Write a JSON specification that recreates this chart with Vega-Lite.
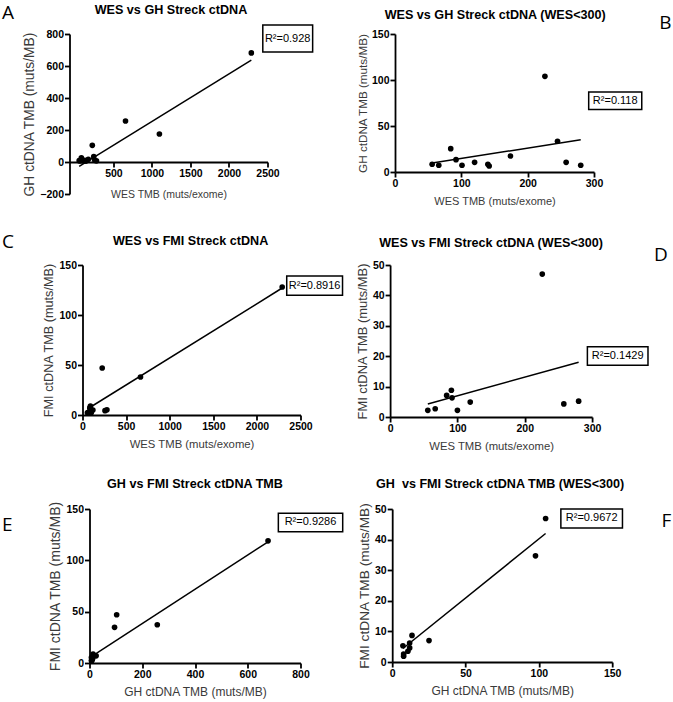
{
  "$schema": "https://vega.github.io/schema/vega-lite/v6.json",
  "background": "white",
  "padding": {"left": 2, "right": 1, "top": 3, "bottom": 2},
  "datasets": {
    "A_pts": [{"x":56,"y":8.4},{"x":66,"y":7.3},{"x":84,"y":25.4},{"x":92,"y":13.4},{"x":101,"y":7.3},{"x":120,"y":10.5},{"x":140,"y":8.4},{"x":142,"y":6.5},{"x":174,"y":17.4},{"x":226,"y":104},{"x":245,"y":33.4},{"x":258,"y":10.5},{"x":280,"y":7.3},{"x":657,"y":256},{"x":1097,"y":175},{"x":2290,"y":682}],
    "A_fit": [{"x":56,"y":-27},{"x":2290,"y":637}],
    "A_box": [{"x":2439,"x2":3086,"y":856,"y2":687}],
    "A_lab": [{"x":2762,"y":771,"t":"R²=0.928"}],
    "A_let": [{"x":0,"y":41.5,"t":"A"}],
    "A_ttl": [{"x":1247,"y":950,"t":"WES vs GH Streck ctDNA"}],
    "B_pts": [{"x":56,"y":8.4},{"x":66,"y":7.3},{"x":84,"y":25.4},{"x":92,"y":13.4},{"x":101,"y":7.3},{"x":120,"y":10.5},{"x":140,"y":8.4},{"x":142,"y":6.5},{"x":174,"y":17.4},{"x":226,"y":104},{"x":245,"y":33.4},{"x":258,"y":10.5},{"x":280,"y":7.3}],
    "B_fit": [{"x":56,"y":9.8},{"x":280,"y":35}],
    "B_box": [{"x":292,"x2":372,"y":87,"y2":68}],
    "B_lab": [{"x":332,"y":77.5,"t":"R²=0.118"}],
    "B_let": [{"x":407.5,"y":161.7,"t":"B"}],
    "B_ttl": [{"x":151,"y":171,"t":"WES vs GH Streck ctDNA (WES<300)"}],
    "C_pts": [{"x":56,"y":2.2},{"x":67,"y":2.7},{"x":84,"y":7.1},{"x":91,"y":8.8},{"x":92,"y":6.3},{"x":100,"y":2.2},{"x":119,"y":4.9},{"x":226,"y":47},{"x":258,"y":4.3},{"x":280,"y":5.2},{"x":665,"y":38},{"x":2290,"y":128}],
    "C_fit": [{"x":56,"y":6},{"x":2290,"y":127}],
    "C_box": [{"x":2342,"x2":2982,"y":139,"y2":119.7}],
    "C_lab": [{"x":2662,"y":129.3,"t":"R²=0.8916"}],
    "C_let": [{"x":0,"y":43.5,"t":"C"}],
    "C_ttl": [{"x":1240,"y":174,"t":"WES vs FMI Streck ctDNA"}],
    "D_pts": [{"x":56,"y":2.2},{"x":67,"y":2.7},{"x":84,"y":7.1},{"x":91,"y":8.8},{"x":92,"y":6.3},{"x":100,"y":2.2},{"x":119,"y":4.9},{"x":226,"y":47},{"x":258,"y":4.3},{"x":280,"y":5.2}],
    "D_fit": [{"x":56,"y":4.3},{"x":280,"y":18}],
    "D_box": [{"x":293,"x2":383,"y":23.1,"y2":17}],
    "D_lab": [{"x":338,"y":20,"t":"R²=0.1429"}],
    "D_let": [{"x":402,"y":53.3,"t":"D"}],
    "D_ttl": [{"x":150,"y":57.3,"t":"WES vs FMI Streck ctDNA (WES<300)"}],
    "E_pts": [{"x":7.3,"y":5.3},{"x":7.8,"y":2.6},{"x":7.8,"y":1.9},{"x":13.5,"y":8.7},{"x":11.9,"y":6.2},{"x":11.9,"y":4.6},{"x":10.7,"y":3.5},{"x":25.1,"y":7},{"x":95,"y":34.7},{"x":103,"y":47},{"x":257,"y":37.3},{"x":677,"y":119}],
    "E_fit": [{"x":7,"y":6.3},{"x":677,"y":118}],
    "E_box": [{"x":716,"x2":960,"y":145.8,"y2":127.9}],
    "E_lab": [{"x":838,"y":136.9,"t":"R²=0.9286"}],
    "E_let": [{"x":0,"y":4,"t":"E"}],
    "E_ttl": [{"x":400,"y":174.8,"t":"GH vs FMI Streck ctDNA TMB"}],
    "F_pts": [{"x":7.3,"y":5.3},{"x":7.8,"y":2.6},{"x":7.8,"y":1.9},{"x":13.5,"y":8.7},{"x":11.9,"y":6.2},{"x":11.9,"y":4.6},{"x":10.7,"y":3.5},{"x":25.1,"y":7},{"x":97.7,"y":34.7},{"x":104.6,"y":46.9}],
    "F_fit": [{"x":7.3,"y":4.4},{"x":104.6,"y":42}],
    "F_box": [{"x":115,"x2":157,"y":50,"y2":43.8}],
    "F_lab": [{"x":136,"y":46.9,"t":"R²=0.9672"}],
    "F_let": [{"x":187,"y":46,"t":"F"}],
    "F_ttl": [{"x":73.6,"y":58.3,"t":"GH\u00a0 vs FMI Streck ctDNA TMB (WES<300)"}]
  },
  "vconcat": [
    {
      "hconcat": [
        {
          "hconcat": [
            {
              "width": 14, "height": 20,
              "data": {"name": "A_let"},
              "mark": {"type": "text", "fontSize": 19, "font": "Open Sans", "color": "black", "align": "left", "baseline": "middle"},
              "encoding": {
                "x": {"field": "x", "type": "quantitative", "scale": {"domain": [0, 14], "nice": false, "zero": false}, "axis": null},
                "y": {"field": "y", "type": "quantitative", "scale": {"domain": [0, 20], "nice": false, "zero": false}, "axis": null},
                "text": {"field": "t"}}
            },
            {
              "width": 198, "height": 160,
              "encoding": {
                "x": {"field": "x", "type": "quantitative", "scale": {"domain": [-70, 2500], "nice": false, "zero": false}, "axis": {"title": "WES TMB (muts/exome)", "titleFontSize": 10.5, "values": [500, 1000, 1500, 2000, 2500], "format": "d", "labelOverlap": false, "offset": -32, "titlePadding": 11}},
                "y": {"field": "y", "type": "quantitative", "scale": {"domain": [-200, 800], "nice": false, "zero": false}, "axis": {"title": "GH ctDNA TMB (muts/MB)", "titleFontSize": 13.8, "values": [-200, 0, 200, 400, 600, 800], "format": "d", "labelOverlap": false}}
              },
              "layer": [
                {"data": {"name": "A_pts"}, "mark": {"type": "circle", "size": 32, "color": "black", "opacity": 1}},
                {"data": {"name": "A_fit"}, "mark": {"type": "line", "color": "black", "strokeWidth": 1.5}},
                {"data": {"name": "A_box"}, "mark": {"type": "rect", "fill": "white", "stroke": "black", "strokeWidth": 1.5},
                 "encoding": {"x2": {"field": "x2"}, "y2": {"field": "y2"}}},
                {"data": {"name": "A_lab"}, "mark": {"type": "text", "fontSize": 11, "font": "Liberation Sans", "color": "black", "align": "center", "baseline": "middle"},
                 "encoding": {"text": {"field": "t"}}},
                {"data": {"name": "A_ttl"}, "mark": {"type": "text", "fontSize": 12.6, "font": "Liberation Sans", "fontWeight": "bold", "color": "black", "align": "center", "baseline": "middle"},
                 "encoding": {"text": {"field": "t"}}}
              ]
            }
          ],
          "spacing": 6.5
        },
        {
          "width": 199, "height": 138,
          "encoding": {
            "x": {"field": "x", "type": "quantitative", "scale": {"domain": [0, 300], "nice": false, "zero": false}, "axis": {"title": "WES TMB (muts/exome)", "titleFontSize": 11, "values": [0, 100, 200, 300], "format": "d", "labelOverlap": false}},
            "y": {"field": "y", "type": "quantitative", "scale": {"domain": [0, 150], "nice": false, "zero": false}, "axis": {"title": "GH ctDNA TMB (muts/MB)", "titleFontSize": 11.7, "values": [0, 50, 100, 150], "format": "d", "labelOverlap": false}}
          },
          "layer": [
            {"data": {"name": "B_pts"}, "mark": {"type": "circle", "size": 32, "color": "black", "opacity": 1}},
            {"data": {"name": "B_fit"}, "mark": {"type": "line", "color": "black", "strokeWidth": 1.5}},
            {"data": {"name": "B_box"}, "mark": {"type": "rect", "fill": "white", "stroke": "black", "strokeWidth": 1.5},
             "encoding": {"x2": {"field": "x2"}, "y2": {"field": "y2"}}},
            {"data": {"name": "B_lab"}, "mark": {"type": "text", "fontSize": 11, "font": "Liberation Sans", "color": "black", "align": "center", "baseline": "middle"},
             "encoding": {"text": {"field": "t"}}},
            {"data": {"name": "B_let"}, "mark": {"type": "text", "fontSize": 19, "font": "Open Sans", "color": "black", "align": "center", "baseline": "middle"},
             "encoding": {"text": {"field": "t"}}},
            {"data": {"name": "B_ttl"}, "mark": {"type": "text", "fontSize": 12.6, "font": "Liberation Sans", "fontWeight": "bold", "color": "black", "align": "center", "baseline": "middle"},
             "encoding": {"text": {"field": "t"}}}
          ]
        }
      ],
      "spacing": 43
    },
    {
      "hconcat": [
        {
          "hconcat": [
            {
              "width": 14, "height": 20,
              "data": {"name": "C_let"},
              "mark": {"type": "text", "fontSize": 19, "font": "Open Sans", "color": "black", "align": "left", "baseline": "middle"},
              "encoding": {
                "x": {"field": "x", "type": "quantitative", "scale": {"domain": [0, 14], "nice": false, "zero": false}, "axis": null},
                "y": {"field": "y", "type": "quantitative", "scale": {"domain": [0, 20], "nice": false, "zero": false}, "axis": null},
                "text": {"field": "t"}}
            },
            {
              "width": 218, "height": 150,
              "encoding": {
                "x": {"field": "x", "type": "quantitative", "scale": {"domain": [0, 2500], "nice": false, "zero": false}, "axis": {"title": "WES TMB (muts/exome)", "titleFontSize": 11.3, "values": [0, 500, 1000, 1500, 2000, 2500], "format": "d", "labelOverlap": false}},
                "y": {"field": "y", "type": "quantitative", "scale": {"domain": [0, 150], "nice": false, "zero": false}, "axis": {"title": "FMI ctDNA TMB (muts/MB)", "titleFontSize": 12.7, "values": [0, 50, 100, 150], "format": "d", "labelOverlap": false}}
              },
              "layer": [
                {"data": {"name": "C_pts"}, "mark": {"type": "circle", "size": 32, "color": "black", "opacity": 1}},
                {"data": {"name": "C_fit"}, "mark": {"type": "line", "color": "black", "strokeWidth": 1.5}},
                {"data": {"name": "C_box"}, "mark": {"type": "rect", "fill": "white", "stroke": "black", "strokeWidth": 1.5},
                 "encoding": {"x2": {"field": "x2"}, "y2": {"field": "y2"}}},
                {"data": {"name": "C_lab"}, "mark": {"type": "text", "fontSize": 11, "font": "Liberation Sans", "color": "black", "align": "center", "baseline": "middle"},
                 "encoding": {"text": {"field": "t"}}},
                {"data": {"name": "C_ttl"}, "mark": {"type": "text", "fontSize": 12.6, "font": "Liberation Sans", "fontWeight": "bold", "color": "black", "align": "center", "baseline": "middle"},
                 "encoding": {"text": {"field": "t"}}}
              ]
            }
          ],
          "spacing": 26.5
        },
        {
          "width": 202, "height": 152,
          "encoding": {
            "x": {"field": "x", "type": "quantitative", "scale": {"domain": [0, 300], "nice": false, "zero": false}, "axis": {"title": "WES TMB (muts/exome)", "titleFontSize": 11.3, "values": [0, 100, 200, 300], "format": "d", "labelOverlap": false}},
            "y": {"field": "y", "type": "quantitative", "scale": {"domain": [0, 50], "nice": false, "zero": false}, "axis": {"title": "FMI ctDNA TMB (muts/MB)", "titleFontSize": 12.9, "values": [0, 10, 20, 30, 40, 50], "format": "d", "labelOverlap": false}}
          },
          "layer": [
            {"data": {"name": "D_pts"}, "mark": {"type": "circle", "size": 32, "color": "black", "opacity": 1}},
            {"data": {"name": "D_fit"}, "mark": {"type": "line", "color": "black", "strokeWidth": 1.5}},
            {"data": {"name": "D_box"}, "mark": {"type": "rect", "fill": "white", "stroke": "black", "strokeWidth": 1.5},
             "encoding": {"x2": {"field": "x2"}, "y2": {"field": "y2"}}},
            {"data": {"name": "D_lab"}, "mark": {"type": "text", "fontSize": 11, "font": "Liberation Sans", "color": "black", "align": "center", "baseline": "middle"},
             "encoding": {"text": {"field": "t"}}},
            {"data": {"name": "D_let"}, "mark": {"type": "text", "fontSize": 19, "font": "Open Sans", "color": "black", "align": "center", "baseline": "middle"},
             "encoding": {"text": {"field": "t"}}},
            {"data": {"name": "D_ttl"}, "mark": {"type": "text", "fontSize": 12.6, "font": "Liberation Sans", "fontWeight": "bold", "color": "black", "align": "center", "baseline": "middle"},
             "encoding": {"text": {"field": "t"}}}
          ]
        }
      ],
      "spacing": 12.1
    },
    {
      "hconcat": [
        {
          "hconcat": [
            {
              "width": 14, "height": 20,
              "data": {"name": "E_let"},
              "mark": {"type": "text", "fontSize": 19, "font": "Open Sans", "color": "black", "align": "left", "baseline": "middle"},
              "encoding": {
                "x": {"field": "x", "type": "quantitative", "scale": {"domain": [0, 14], "nice": false, "zero": false}, "axis": null},
                "y": {"field": "y", "type": "quantitative", "scale": {"domain": [0, 20], "nice": false, "zero": false}, "axis": null},
                "text": {"field": "t"}}
            },
            {
              "width": 211, "height": 154,
              "encoding": {
                "x": {"field": "x", "type": "quantitative", "scale": {"domain": [0, 800], "nice": false, "zero": false}, "axis": {"title": "GH ctDNA TMB (muts/MB)", "titleFontSize": 12, "values": [0, 200, 400, 600, 800], "format": "d", "labelOverlap": false}},
                "y": {"field": "y", "type": "quantitative", "scale": {"domain": [0, 150], "nice": false, "zero": false}, "axis": {"title": "FMI ctDNA TMB (muts/MB)", "titleFontSize": 14, "values": [0, 50, 100, 150], "format": "d", "labelOverlap": false}}
              },
              "layer": [
                {"data": {"name": "E_pts"}, "mark": {"type": "circle", "size": 32, "color": "black", "opacity": 1}},
                {"data": {"name": "E_fit"}, "mark": {"type": "line", "color": "black", "strokeWidth": 1.5}},
                {"data": {"name": "E_box"}, "mark": {"type": "rect", "fill": "white", "stroke": "black", "strokeWidth": 1.5},
                 "encoding": {"x2": {"field": "x2"}, "y2": {"field": "y2"}}},
                {"data": {"name": "E_lab"}, "mark": {"type": "text", "fontSize": 11, "font": "Liberation Sans", "color": "black", "align": "center", "baseline": "middle"},
                 "encoding": {"text": {"field": "t"}}},
                {"data": {"name": "E_ttl"}, "mark": {"type": "text", "fontSize": 12.6, "font": "Liberation Sans", "fontWeight": "bold", "color": "black", "align": "center", "baseline": "middle"},
                 "encoding": {"text": {"field": "t"}}}
              ]
            }
          ],
          "spacing": 32.5
        },
        {
          "width": 220, "height": 153,
          "encoding": {
            "x": {"field": "x", "type": "quantitative", "scale": {"domain": [0, 150], "nice": false, "zero": false}, "axis": {"title": "GH ctDNA TMB (muts/MB)", "titleFontSize": 12, "values": [0, 50, 100, 150], "format": "d", "labelOverlap": false}},
            "y": {"field": "y", "type": "quantitative", "scale": {"domain": [0, 50], "nice": false, "zero": false}, "axis": {"title": "FMI ctDNA TMB (muts/MB)", "titleFontSize": 13.7, "values": [0, 10, 20, 30, 40, 50], "format": "d", "labelOverlap": false}}
          },
          "layer": [
            {"data": {"name": "F_pts"}, "mark": {"type": "circle", "size": 32, "color": "black", "opacity": 1}},
            {"data": {"name": "F_fit"}, "mark": {"type": "line", "color": "black", "strokeWidth": 1.5}},
            {"data": {"name": "F_box"}, "mark": {"type": "rect", "fill": "white", "stroke": "black", "strokeWidth": 1.5},
             "encoding": {"x2": {"field": "x2"}, "y2": {"field": "y2"}}},
            {"data": {"name": "F_lab"}, "mark": {"type": "text", "fontSize": 11, "font": "Liberation Sans", "color": "black", "align": "center", "baseline": "middle"},
             "encoding": {"text": {"field": "t"}}},
            {"data": {"name": "F_let"}, "mark": {"type": "text", "fontSize": 19, "font": "Open Sans", "color": "black", "align": "center", "baseline": "middle"},
             "encoding": {"text": {"field": "t"}}},
            {"data": {"name": "F_ttl"}, "mark": {"type": "text", "fontSize": 12.6, "font": "Liberation Sans", "fontWeight": "bold", "color": "black", "align": "center", "baseline": "middle"},
             "encoding": {"text": {"field": "t"}}}
          ]
        }
      ],
      "spacing": 13.2
    }
  ],
  "spacing": 25,
  "config": {
    "view": {"stroke": null},
    "font": "Liberation Sans",
    "axis": {"grid": false, "domainColor": "black", "domainWidth": 1.8, "tickColor": "black", "tickWidth": 1.8, "tickSize": 5, "labelFont": "Liberation Sans", "labelFontWeight": "bold", "labelFontSize": 10.5, "labelColor": "black", "labelPadding": 1, "labelFlush": false, "labelOverlap": false, "titleFont": "Liberation Sans", "titleFontWeight": "normal", "titleFontSize": 10.5, "titleColor": "#3a3a3a"},
    "axisX": {"titlePadding": 7},
    "axisY": {"titlePadding": 3, "labelOverlap": false}
  }
}
